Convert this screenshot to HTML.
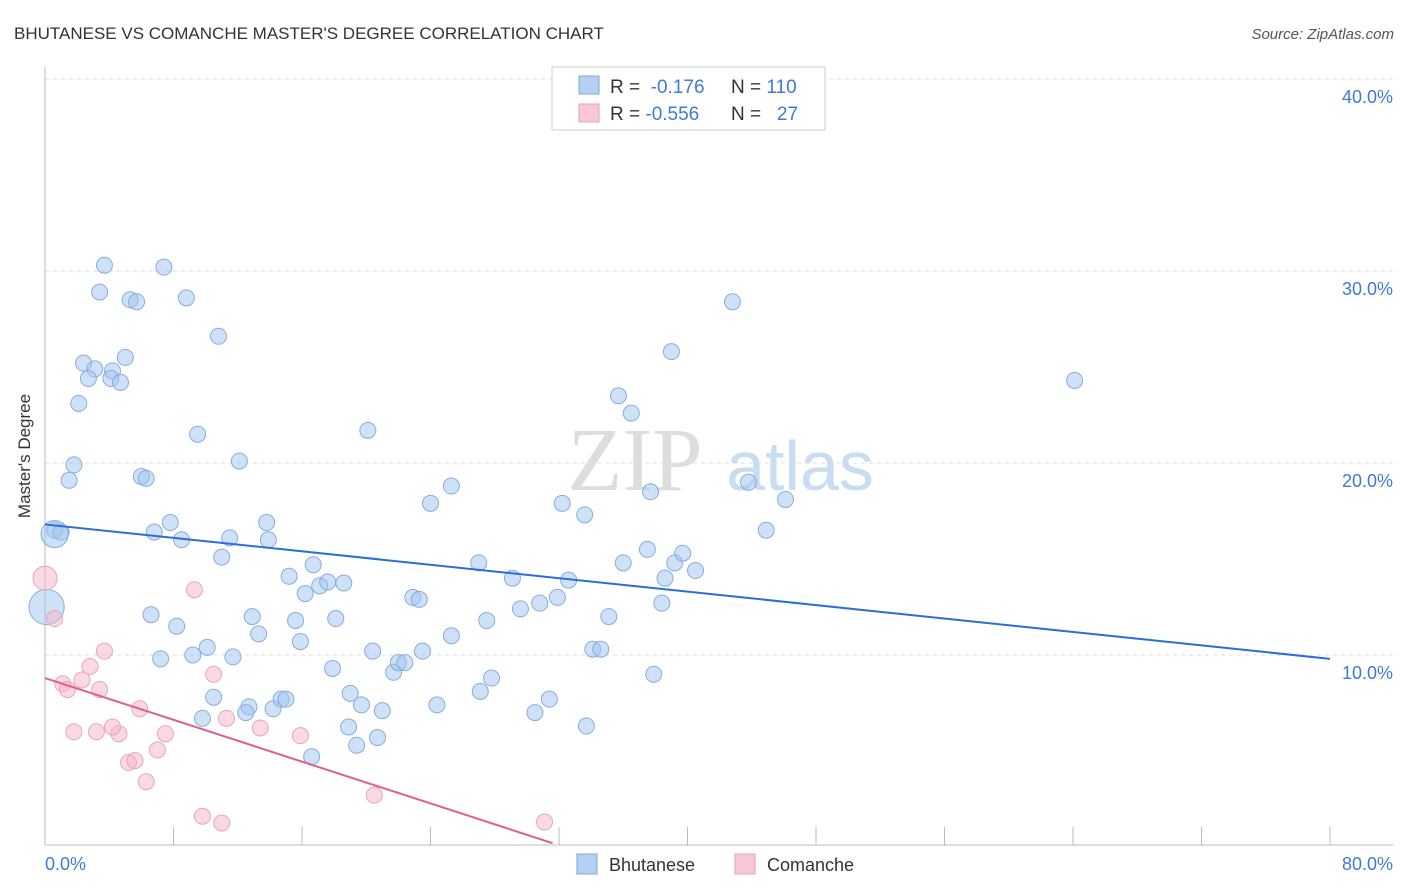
<!DOCTYPE html>
<html><head><meta charset="utf-8">
<style>
body{margin:0;background:#fff;font-family:"Liberation Sans",sans-serif;}
svg{display:block}
</style></head>
<body>
<svg id="chart" width="1406" height="892">
<text x="14" y="39" font-size="17" fill="#333">BHUTANESE VS COMANCHE MASTER'S DEGREE CORRELATION CHART</text>
<text x="1394" y="39" font-size="15" fill="#555" font-style="italic" text-anchor="end">Source: ZipAtlas.com</text>
<text x="30" y="456" font-size="17" fill="#333" text-anchor="middle" transform="rotate(-90 30 456)">Master's Degree</text>
<g>
<text x="635" y="490" font-size="90" fill="#ddd" font-family="Liberation Serif,serif" text-anchor="middle">ZIP</text>
<text x="800" y="490" font-size="70" fill="#c8dcf2" text-anchor="middle">atlas</text>
</g>
<g id="grid"></g>
<g id="axes"></g>
<g id="pts"></g>
<g id="lines"></g>
<g>
<rect x="552" y="67" width="273" height="63" fill="#fff" stroke="#ccc"/>
<rect x="579" y="76" width="20" height="18" fill="#b5d0f3" stroke="#7fa8dd"/>
<rect x="579" y="104" width="20" height="18" fill="#f8c8d6" stroke="#e8a0b8"/>
<text x="610" y="93" font-size="19" fill="#333">R = <tspan fill="#3d7bd6">&#160;-0.176</tspan><tspan x="731">N = </tspan><tspan fill="#3d7bd6">110</tspan></text>
<text x="610" y="120" font-size="19" fill="#333">R = <tspan fill="#3d7bd6">-0.556</tspan><tspan x="731">N = </tspan><tspan fill="#3d7bd6">&#160;&#160;27</tspan></text>
</g>
<g>
<rect x="577" y="854" width="20" height="20" fill="#b5d0f3" stroke="#7fa8dd"/>
<text x="609" y="871" font-size="18" fill="#333">Bhutanese</text>
<rect x="735" y="854" width="20" height="20" fill="#f8c8d6" stroke="#e8a0b8"/>
<text x="767" y="871" font-size="18" fill="#333">Comanche</text>
</g>
</svg>
<script>
const xTicks=[0,8,16,24,32,40,48,56,64,72,80];
const yTicks=[10,20,30,40];
const yTickLabels=["10.0%","20.0%","30.0%","40.0%"];
const xEndLabels=["0.0%","80.0%"];
const blueX=[3.7,7.4,3.4,5.3,5.7,8.8,10.8,2.4,3.1,5.0,2.7,4.2,4.1,4.7,2.1,9.5,12.1,1.8,1.5,6.0,6.3,0.6,1.0,6.8,7.8,8.5,11.5,13.8,13.9,11.0,15.2,16.7,16.2,17.1,17.6,18.6,6.6,8.2,10.1,7.2,9.2,11.7,12.9,13.3,15.6,15.9,18.1,17.9,10.5,12.7,12.5,9.8,14.2,14.7,15.0,16.6,19.0,19.7,18.9,19.4,20.7,21.0,20.4,21.7,22.0,22.4,23.5,22.9,23.3,25.3,24.4,27.5,27.1,27.8,29.6,30.8,31.9,32.6,30.5,31.4,33.7,34.1,34.6,35.1,36.0,37.5,38.6,38.4,39.2,39.7,40.5,37.9,24.0,25.3,20.1,32.2,33.6,35.7,36.5,37.7,39.0,42.8,43.8,46.1,44.9,64.1,27.0,29.1,0.6,0.1];
const blueY=[30.3,30.2,28.9,28.5,28.4,28.6,26.6,25.2,24.9,25.5,24.4,24.8,24.4,24.2,23.1,21.5,20.1,19.9,19.1,19.3,19.2,16.5,16.4,16.4,16.9,16.0,16.1,16.9,16.0,15.1,14.1,14.7,13.2,13.6,13.8,13.75,12.1,11.5,10.4,9.8,10.0,9.9,12.0,11.1,11.8,10.7,11.9,9.3,7.8,7.3,7.0,6.7,7.2,7.7,7.7,4.7,8.0,7.4,6.25,5.3,5.7,7.1,10.2,9.1,9.6,9.6,10.2,13.0,12.9,11.0,7.4,11.8,8.1,8.8,12.4,12.7,13.0,13.9,7.0,7.7,6.3,10.3,10.3,12.0,14.8,15.5,14.0,12.7,14.8,15.3,14.4,9.0,17.9,18.8,21.7,17.9,17.3,23.5,22.6,18.5,25.8,28.4,19.0,18.1,16.5,24.3,14.8,14.0,16.3,12.5];
const blueSize=blueX.map((v,i)=>i===blueX.length-1?2.2:(i===blueX.length-2?1.7:1));
const pinkX=[0,0.6,1.1,1.4,3.4,2.3,2.8,3.7,1.8,3.2,4.6,4.2,5.9,7.5,7.0,5.2,5.6,6.3,9.3,10.5,11.3,13.4,15.9,9.8,11.0,20.5,31.1];
const pinkY=[14.0,11.9,8.5,8.2,8.2,8.7,9.4,10.2,6.0,6.0,5.9,6.25,7.2,5.9,5.05,4.4,4.5,3.4,13.4,9.0,6.7,6.2,5.8,1.6,1.25,2.7,1.3];
const pinkSize=pinkX.map((v,i)=>i===0?1.5:1);
const blueTrend=[[0,16.8],[80,9.8]];
const pinkTrend=[[0,8.8],[31.6,0.2]];

const X0=45,X1=1330,Y0=847,Y40=79;
const sx=v=>X0+(X1-X0)*v/80;
const sy=v=>Y0-(Y0-Y40)*v/40;
const NS="http://www.w3.org/2000/svg";
function mk(tag,attrs,parent){const e=document.createElementNS(NS,tag);for(const k in attrs)e.setAttribute(k,attrs[k]);parent.appendChild(e);return e;}
const grid=document.getElementById('grid'),axes=document.getElementById('axes'),pts=document.getElementById('pts'),lines=document.getElementById('lines');
yTicks.forEach((t,i)=>{
  const l=mk('line',{x1:X0,x2:1393,y1:sy(t),y2:sy(t),stroke:'#ddd','stroke-dasharray':'4,4'},grid);
  
  
  const tx=mk('text',{x:1393,y:sy(t)+24,'font-size':18,fill:'#3d7bd6','text-anchor':'end'},axes);
  tx.textContent=yTickLabels[i];
  
  
});
const ax=mk('line',{x1:X0,x2:1393,y1:845,y2:845,stroke:'#bbb'},axes);


const ay=mk('line',{x1:X0,x2:X0,y1:67,y2:845,stroke:'#bbb'},axes);


xTicks.forEach(t=>{
  const l=mk('line',{x1:sx(t),x2:sx(t),y1:827,y2:845,stroke:'#bbb'},axes);
  
  
});
[[0,'start'],[80,'end']].forEach((p,i)=>{
  const tx=mk('text',{x:i?1393:45,y:870,'font-size':18,fill:'#3d7bd6','text-anchor':p[1]},axes);
  tx.textContent=xEndLabels[i];
  
  
});
blueX.forEach((v,i)=>{
  const c=mk('circle',{cx:sx(v),cy:sy(blueY[i]),r:8*blueSize[i],fill:'rgba(160,196,240,0.5)',stroke:'#86ade0','stroke-width':1},pts);
  
  
});
pinkX.forEach((v,i)=>{
  const c=mk('circle',{cx:sx(v),cy:sy(pinkY[i]),r:8*pinkSize[i],fill:'rgba(245,180,200,0.5)',stroke:'#eaa4bb','stroke-width':1},pts);
  
  
});
const bl=mk('line',{x1:sx(blueTrend[0][0]),y1:sy(blueTrend[0][1]),x2:sx(blueTrend[1][0]),y2:sy(blueTrend[1][1]),stroke:'#2a6fd6','stroke-width':2},lines);


const pl=mk('line',{x1:sx(pinkTrend[0][0]),y1:sy(pinkTrend[0][1]),x2:sx(pinkTrend[1][0]),y2:sy(pinkTrend[1][1]),stroke:'#e0608a','stroke-width':2},lines);


</script>
</body></html>
